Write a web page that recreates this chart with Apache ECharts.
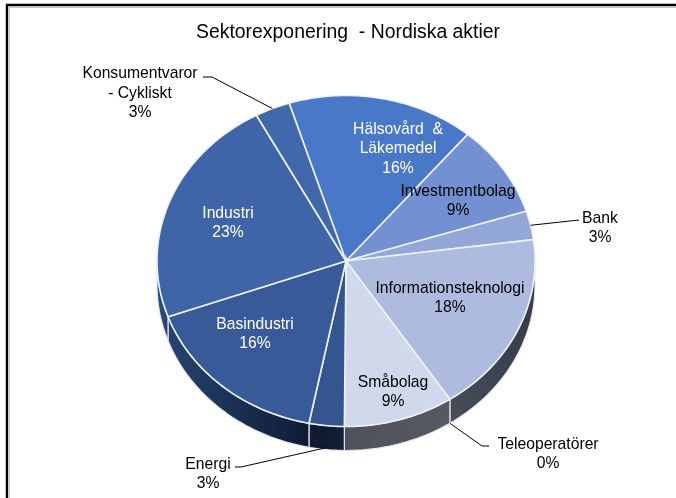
<!DOCTYPE html>
<html>
<head>
<meta charset="utf-8">
<script src="https://cdn.jsdelivr.net/npm/echarts@6/dist/echarts.min.js"></script>
<style>
  html, body { margin: 0; padding: 0; background: #fff; }
  #chart { width: 676px; height: 498px; }
</style>
</head>
<body>
<div id="chart"></div>
<script>
var categories = ['Hälsovård  &\nLäkemedel', 'Investmentbolag', 'Bank', 'Informationsteknologi', 'Teleoperatörer', 'Småbolag', 'Energi', 'Basindustri', 'Industri', 'Konsumentvaror\n- Cykliskt'];
var shares = [16, 9, 2.8, 17.8, 0, 9.4, 3, 16.4, 22.6, 3];

var topColors = ['#4a78c8', '#7391d2', '#93a8d8', '#adbcde', '#d0d8ec', '#d0d8ec', '#34558f', '#385a98', '#3f65a8', '#4068ab'];
// wall gradient, left to right
var wallColors = [['#2a4a80', '#2a4a80'], ['#3a4a70', '#3a4a70'], ['#4a5670', '#4a5670'], ['#484d5a', '#363c4a'], ['#50545f', '#50545f'], ['#4f525b', '#565962'], ['#101b33', '#121c33'], ['#26436f', '#0f1b33'], ['#2d4f8a', '#24406f'], ['#1f3a68', '#1f3a68']];
var labelColors = ['#fff', '#000', '#000', '#000', '#000', '#000', '#000', '#fff', '#fff', '#000'];

// label centres
var labelPos = [[398, 149], [458, 201], [600, 228], [450, 298], [548, 454], [393, 392], [208, 474], [255, 334], [228, 223], [140, 93.5]];
// leaders: slice index -> [elbow, end, drop below the top face at the start]
var leaders = {
    2: [[579, 220], [579, 220], 0],
    4: [[482, 446], [489, 446], 24],
    6: [[241, 467], [235, 467], 22],
    9: [[212, 77], [203, 77], 0]
};

var cx = 346, cy = 261, rx = 189, ry = 165.5, depth = 24, startDeg = -17.5;
var fontFamily = '"Liberation Sans", Arial, sans-serif';

var total = shares.reduce(function (a, b) { return a + b; }, 0);

function pointAt(deg, yOff) {
    var t = deg * Math.PI / 180;
    return [cx + rx * Math.sin(t), cy - ry * Math.cos(t) + (yOff || 0)];
}

function sliceRange(i) {
    var from = startDeg;
    for (var k = 0; k < i; k++) from += shares[k] / total * 360;
    return [from, from + shares[i] / total * 360];
}

function arc(from, to, yOff) {
    var pts = [];
    var n = Math.max(2, Math.ceil(Math.abs(to - from)));
    for (var k = 0; k <= n; k++) pts.push(pointAt(from + (to - from) * k / n, yOff));
    return pts;
}

function renderWall(params, api) {
    var i = params.dataIndex;
    var r = sliceRange(i);
    var from = Math.max(r[0], 90), to = Math.min(r[1], 270);
    if (to <= from) return { type: 'group', children: [] };
    var pts = arc(from, to, 0).concat(arc(to, from, depth));
    return {
        type: 'polygon',
        shape: { points: pts },
        style: {
            fill: new echarts.graphic.LinearGradient(0, 0, 1, 0, [
                { offset: 0, color: wallColors[i][0] },
                { offset: 1, color: wallColors[i][1] }
            ]),
            stroke: '#e4e7ee',
            lineWidth: 1.2
        }
    };
}

function renderTop(params, api) {
    var i = params.dataIndex;
    var r = sliceRange(i);
    var children = [];
    if (r[1] > r[0]) {
        children.push({
            type: 'polygon',
            shape: { points: [[cx, cy]].concat(arc(r[0], r[1], 0)) },
            style: { fill: topColors[i], stroke: '#eef1f7', lineWidth: 1.6 }
        });
    }
    return { type: 'group', children: children };
}

function renderLabel(params, api) {
    var i = params.dataIndex;
    var children = [];
    var r = sliceRange(i);
    var leader = leaders[i];
    if (leader) {
        var start = pointAt((r[0] + r[1]) / 2, leader[2]);
        children.push({
            type: 'polyline',
            shape: { points: [start, leader[0], leader[1]] },
            style: { stroke: '#000', lineWidth: 1, fill: null }
        });
    }
    children.push({
        type: 'text',
        style: {
            x: labelPos[i][0],
            y: labelPos[i][1],
            text: categories[i] + '\n' + Math.round(api.value(0)) + '%',
            fill: labelColors[i],
            font: '15.7px ' + fontFamily,
            lineHeight: 19.5,
            align: 'center',
            verticalAlign: 'middle'
        }
    });
    return { type: 'group', children: children };
}

var chart = echarts.init(document.getElementById('chart'), null, { renderer: 'canvas' });

var seriesData = shares.map(function (v) { return [v]; });

chart.setOption({
    animation: false,
    title: {
        text: 'Sektorexponering  - Nordiska aktier',
        left: 343,
        top: 18,
        textAlign: 'center',
        textStyle: { color: '#000', fontSize: 19.4, fontWeight: 'normal', fontFamily: fontFamily }
    },
    graphic: [
        { type: 'polyline', silent: true, z: -1, shape: { points: [[9.5, 498], [9.5, 7.5], [676, 7.5]] }, style: { stroke: '#c8c8c8', lineWidth: 1, fill: null } },
        { type: 'polyline', silent: true, z: -1, shape: { points: [[7, 498], [7, 5], [676, 5]] }, style: { stroke: '#000', lineWidth: 2.4, fill: null } }
    ],
    series: [
        { type: 'custom', coordinateSystem: 'none', silent: true, z: 2, renderItem: renderWall, data: seriesData },
        { type: 'custom', coordinateSystem: 'none', silent: true, z: 3, renderItem: renderTop, data: seriesData },
        { type: 'custom', coordinateSystem: 'none', silent: true, z: 4, renderItem: renderLabel, data: seriesData }
    ]
});
</script>
</body>
</html>
